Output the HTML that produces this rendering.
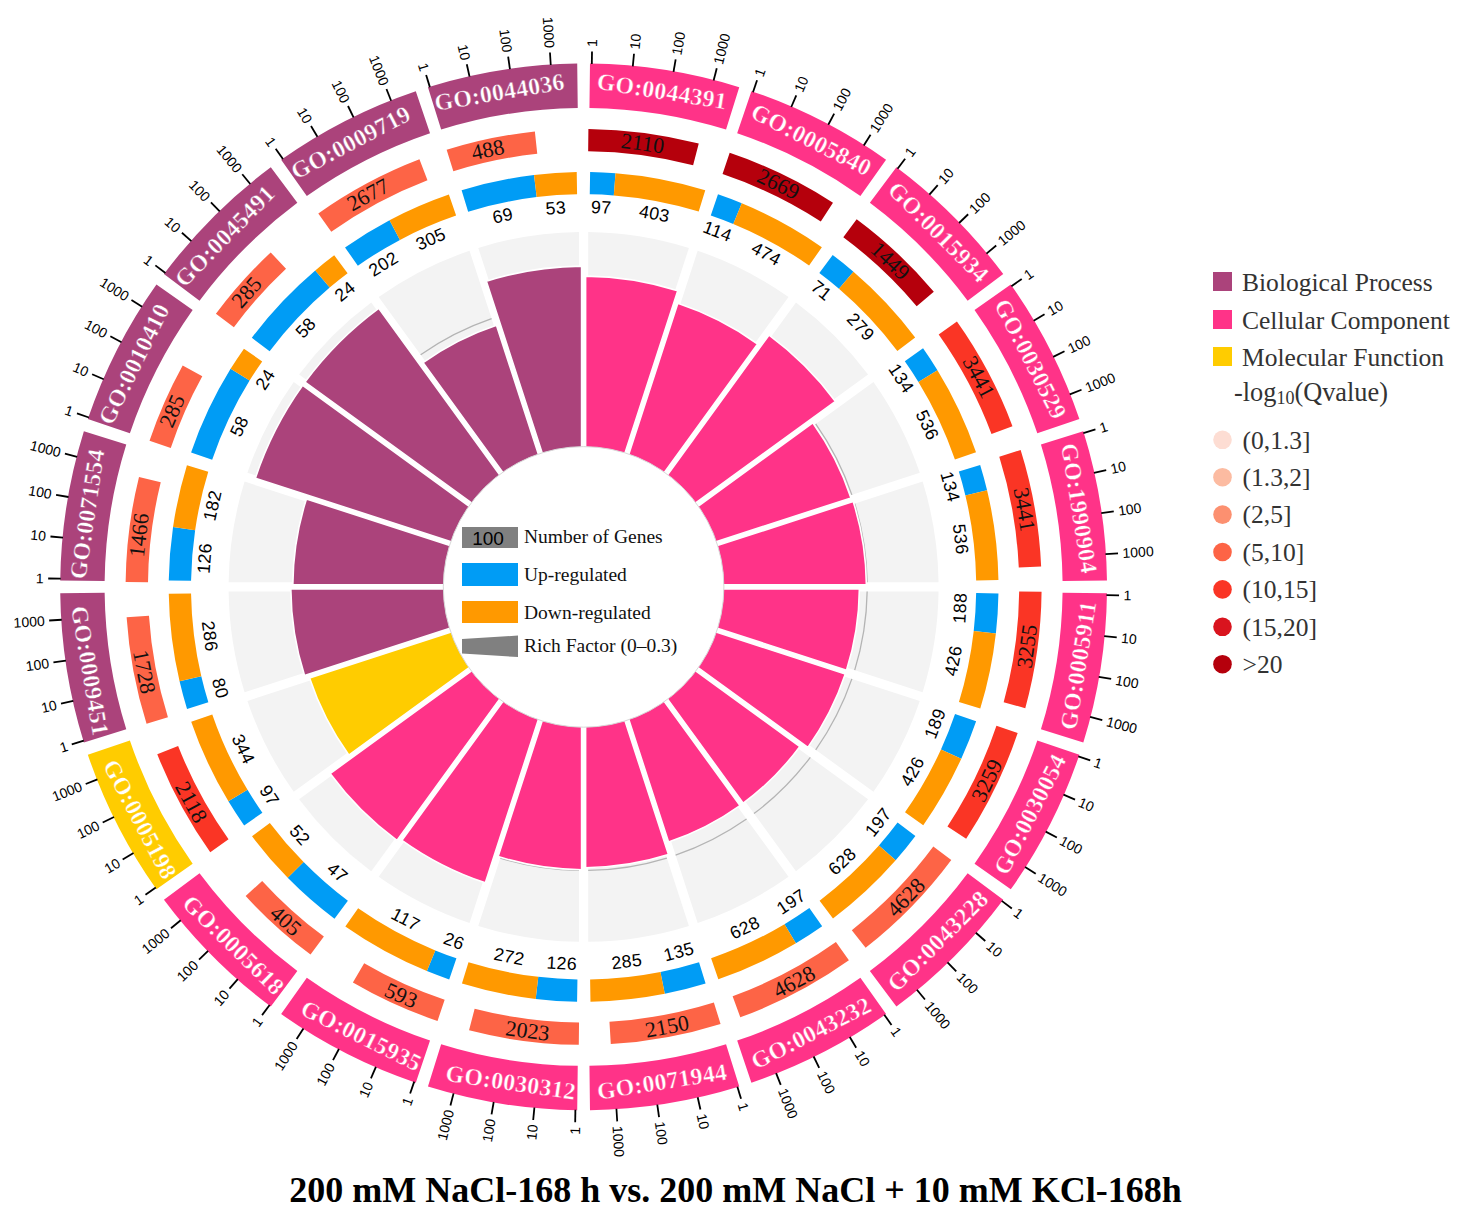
<!DOCTYPE html>
<html><head><meta charset="utf-8"><style>
html,body{margin:0;padding:0;background:#fff;}
body{width:1464px;height:1221px;overflow:hidden;font-family:"Liberation Sans",sans-serif;}
svg{display:block;}
</style></head><body>
<svg width="1464" height="1221" viewBox="0 0 1464 1221"><path d="M588.2 231.93 A355 355 0 0 1 688.92 247.88 L622.56 452.12 A140.3 140.3 0 0 0 588.2 446.68 Z" fill="#F3F3F3"/>
<path d="M697.67 250.72 A355 355 0 0 1 788.52 297.02 L662.3 470.75 A140.3 140.3 0 0 0 631.31 454.96 Z" fill="#F3F3F3"/>
<path d="M795.97 302.43 A355 355 0 0 1 868.07 374.53 L694.34 500.76 A140.3 140.3 0 0 0 669.74 476.16 Z" fill="#F3F3F3"/>
<path d="M873.48 381.98 A355 355 0 0 1 919.78 472.83 L715.54 539.19 A140.3 140.3 0 0 0 699.75 508.2 Z" fill="#F3F3F3"/>
<path d="M922.62 481.58 A355 355 0 0 1 938.57 582.3 L723.82 582.3 A140.3 140.3 0 0 0 718.38 547.94 Z" fill="#F3F3F3"/>
<path d="M938.57 591.5 A355 355 0 0 1 922.62 692.22 L718.38 625.86 A140.3 140.3 0 0 0 723.82 591.5 Z" fill="#F3F3F3"/>
<path d="M919.78 700.97 A355 355 0 0 1 873.48 791.82 L699.75 665.6 A140.3 140.3 0 0 0 715.54 634.61 Z" fill="#F3F3F3"/>
<path d="M868.07 799.27 A355 355 0 0 1 795.97 871.37 L669.74 697.64 A140.3 140.3 0 0 0 694.34 673.04 Z" fill="#F3F3F3"/>
<path d="M788.52 876.78 A355 355 0 0 1 697.67 923.08 L631.31 718.84 A140.3 140.3 0 0 0 662.3 703.05 Z" fill="#F3F3F3"/>
<path d="M688.92 925.92 A355 355 0 0 1 588.2 941.87 L588.2 727.12 A140.3 140.3 0 0 0 622.56 721.68 Z" fill="#F3F3F3"/>
<path d="M579 941.87 A355 355 0 0 1 478.28 925.92 L544.64 721.68 A140.3 140.3 0 0 0 579 727.12 Z" fill="#F3F3F3"/>
<path d="M469.53 923.08 A355 355 0 0 1 378.68 876.78 L504.9 703.05 A140.3 140.3 0 0 0 535.89 718.84 Z" fill="#F3F3F3"/>
<path d="M371.23 871.37 A355 355 0 0 1 299.13 799.27 L472.86 673.04 A140.3 140.3 0 0 0 497.46 697.64 Z" fill="#F3F3F3"/>
<path d="M293.72 791.82 A355 355 0 0 1 247.42 700.97 L451.66 634.61 A140.3 140.3 0 0 0 467.45 665.6 Z" fill="#F3F3F3"/>
<path d="M244.58 692.22 A355 355 0 0 1 228.63 591.5 L443.38 591.5 A140.3 140.3 0 0 0 448.82 625.86 Z" fill="#F3F3F3"/>
<path d="M228.63 582.3 A355 355 0 0 1 244.58 481.58 L448.82 547.94 A140.3 140.3 0 0 0 443.38 582.3 Z" fill="#F3F3F3"/>
<path d="M247.42 472.83 A355 355 0 0 1 293.72 381.98 L467.45 508.2 A140.3 140.3 0 0 0 451.66 539.19 Z" fill="#F3F3F3"/>
<path d="M299.13 374.53 A355 355 0 0 1 371.23 302.43 L497.46 476.16 A140.3 140.3 0 0 0 472.86 500.76 Z" fill="#F3F3F3"/>
<path d="M378.68 297.02 A355 355 0 0 1 469.53 250.72 L535.89 454.96 A140.3 140.3 0 0 0 504.9 470.75 Z" fill="#F3F3F3"/>
<path d="M478.28 247.88 A355 355 0 0 1 579 231.93 L579 446.68 A140.3 140.3 0 0 0 544.64 452.12 Z" fill="#F3F3F3"/>
<path d="M588.2 303.34 A283.6 283.6 0 0 1 666.85 315.79" fill="none" stroke="#B4B4B4" stroke-width="1.3"/>
<path d="M675.6 318.64 A283.6 283.6 0 0 1 746.55 354.79" fill="none" stroke="#B4B4B4" stroke-width="1.3"/>
<path d="M754 360.2 A283.6 283.6 0 0 1 810.3 416.5" fill="none" stroke="#B4B4B4" stroke-width="1.3"/>
<path d="M815.71 423.95 A283.6 283.6 0 0 1 851.86 494.9" fill="none" stroke="#B4B4B4" stroke-width="1.3"/>
<path d="M854.71 503.65 A283.6 283.6 0 0 1 867.16 582.3" fill="none" stroke="#B4B4B4" stroke-width="1.3"/>
<path d="M867.16 591.5 A283.6 283.6 0 0 1 854.71 670.15" fill="none" stroke="#B4B4B4" stroke-width="1.3"/>
<path d="M851.86 678.9 A283.6 283.6 0 0 1 815.71 749.85" fill="none" stroke="#B4B4B4" stroke-width="1.3"/>
<path d="M810.3 757.3 A283.6 283.6 0 0 1 754 813.6" fill="none" stroke="#B4B4B4" stroke-width="1.3"/>
<path d="M746.55 819.01 A283.6 283.6 0 0 1 675.6 855.16" fill="none" stroke="#B4B4B4" stroke-width="1.3"/>
<path d="M666.85 858.01 A283.6 283.6 0 0 1 588.2 870.46" fill="none" stroke="#B4B4B4" stroke-width="1.3"/>
<path d="M579 870.46 A283.6 283.6 0 0 1 500.35 858.01" fill="none" stroke="#B4B4B4" stroke-width="1.3"/>
<path d="M491.6 855.16 A283.6 283.6 0 0 1 420.65 819.01" fill="none" stroke="#B4B4B4" stroke-width="1.3"/>
<path d="M413.2 813.6 A283.6 283.6 0 0 1 356.9 757.3" fill="none" stroke="#B4B4B4" stroke-width="1.3"/>
<path d="M351.49 749.85 A283.6 283.6 0 0 1 315.34 678.9" fill="none" stroke="#B4B4B4" stroke-width="1.3"/>
<path d="M312.49 670.15 A283.6 283.6 0 0 1 300.04 591.5" fill="none" stroke="#B4B4B4" stroke-width="1.3"/>
<path d="M300.04 582.3 A283.6 283.6 0 0 1 312.49 503.65" fill="none" stroke="#B4B4B4" stroke-width="1.3"/>
<path d="M315.34 494.9 A283.6 283.6 0 0 1 351.49 423.95" fill="none" stroke="#B4B4B4" stroke-width="1.3"/>
<path d="M356.9 416.5 A283.6 283.6 0 0 1 413.2 360.2" fill="none" stroke="#B4B4B4" stroke-width="1.3"/>
<path d="M420.65 354.79 A283.6 283.6 0 0 1 491.6 318.64" fill="none" stroke="#B4B4B4" stroke-width="1.3"/>
<path d="M500.35 315.79 A283.6 283.6 0 0 1 579 303.34" fill="none" stroke="#B4B4B4" stroke-width="1.3"/>
<path d="M585.6 276.11 A310.8 310.8 0 0 1 677.74 290.7 L624.43 454.76 A138.3 138.3 0 0 0 585.6 448.61 Z" fill="#FF3388" stroke="#fff" stroke-width="1.6"/>
<path d="M677.83 303.35 A298.8 298.8 0 0 1 757.61 344 L663.26 473.85 A138.3 138.3 0 0 0 628.23 456 Z" fill="#FF3388" stroke="#fff" stroke-width="1.6"/>
<path d="M769.07 335.02 A312.8 312.8 0 0 1 835.48 401.43 L694.3 504 A138.3 138.3 0 0 0 666.5 476.2 Z" fill="#FF3388" stroke="#fff" stroke-width="1.6"/>
<path d="M812.75 422.88 A281.8 281.8 0 0 1 850.98 497.92 L714.5 542.27 A138.3 138.3 0 0 0 696.65 507.24 Z" fill="#FF3388" stroke="#fff" stroke-width="1.6"/>
<path d="M853.17 501.41 A282.8 282.8 0 0 1 866.39 584.9 L721.89 584.9 A138.3 138.3 0 0 0 715.74 546.07 Z" fill="#FF3388" stroke="#fff" stroke-width="1.6"/>
<path d="M859.39 588.9 A275.8 275.8 0 0 1 846.51 670.22 L715.74 627.73 A138.3 138.3 0 0 0 721.89 588.9 Z" fill="#FF3388" stroke="#fff" stroke-width="1.6"/>
<path d="M845.28 674.03 A275.8 275.8 0 0 1 807.9 747.39 L696.65 666.56 A138.3 138.3 0 0 0 714.5 631.53 Z" fill="#FF3388" stroke="#fff" stroke-width="1.6"/>
<path d="M799.88 746.51 A268.8 268.8 0 0 1 743.21 803.18 L666.5 697.6 A138.3 138.3 0 0 0 694.3 669.8 Z" fill="#FF3388" stroke="#fff" stroke-width="1.6"/>
<path d="M739.97 805.53 A268.8 268.8 0 0 1 668.56 841.92 L628.23 717.8 A138.3 138.3 0 0 0 663.26 699.95 Z" fill="#FF3388" stroke="#fff" stroke-width="1.6"/>
<path d="M668.47 854.57 A280.8 280.8 0 0 1 585.6 867.69 L585.6 725.19 A138.3 138.3 0 0 0 624.43 719.04 Z" fill="#FF3388" stroke="#fff" stroke-width="1.6"/>
<path d="M581.6 869.69 A282.8 282.8 0 0 1 498.11 856.47 L542.77 719.04 A138.3 138.3 0 0 0 581.6 725.19 Z" fill="#FF3388" stroke="#fff" stroke-width="1.6"/>
<path d="M485.35 882.82 A311.8 311.8 0 0 1 401.95 840.32 L503.94 699.95 A138.3 138.3 0 0 0 538.97 717.8 Z" fill="#FF3388" stroke="#fff" stroke-width="1.6"/>
<path d="M396.95 840.4 A314.8 314.8 0 0 1 330.1 773.55 L472.9 669.8 A138.3 138.3 0 0 0 500.7 697.6 Z" fill="#FF3388" stroke="#fff" stroke-width="1.6"/>
<path d="M348.79 755.03 A288.8 288.8 0 0 1 309.56 678.04 L452.7 631.53 A138.3 138.3 0 0 0 470.55 666.56 Z" fill="#FFCC00" stroke="#fff" stroke-width="1.6"/>
<path d="M304.52 675.48 A292.8 292.8 0 0 1 290.81 588.9 L445.31 588.9 A138.3 138.3 0 0 0 451.46 627.73 Z" fill="#AB437B" stroke="#fff" stroke-width="1.6"/>
<path d="M292.81 584.9 A290.8 290.8 0 0 1 306.42 498.94 L451.46 546.07 A138.3 138.3 0 0 0 445.31 584.9 Z" fill="#AB437B" stroke="#fff" stroke-width="1.6"/>
<path d="M255.35 478.14 A345.8 345.8 0 0 1 302.67 385.27 L470.55 507.24 A138.3 138.3 0 0 0 452.7 542.27 Z" fill="#AB437B" stroke="#fff" stroke-width="1.6"/>
<path d="M305.02 382.03 A345.8 345.8 0 0 1 378.73 308.32 L500.7 476.2 A138.3 138.3 0 0 0 472.9 504 Z" fill="#AB437B" stroke="#fff" stroke-width="1.6"/>
<path d="M423.11 362.6 A275.8 275.8 0 0 1 496.47 325.22 L538.97 456 A138.3 138.3 0 0 0 503.94 473.85 Z" fill="#AB437B" stroke="#fff" stroke-width="1.6"/>
<path d="M486.37 281.19 A320.8 320.8 0 0 1 581.6 266.11 L581.6 448.61 A138.3 138.3 0 0 0 542.77 454.76 Z" fill="#AB437B" stroke="#fff" stroke-width="1.6"/>
<circle cx="583.6" cy="586.9" r="140.3" fill="#fff" stroke="#d8d8d8" stroke-width="1"/>
<path d="M589.99 63.54 A523.4 523.4 0 0 1 739.25 87.18 L726.04 129.57 A479 479 0 0 0 589.45 107.94 Z" fill="#FF3388"/>
<path d="M588.4 128.93 A458 458 0 0 1 698.75 143.61 L693.12 165.29 A435.6 435.6 0 0 0 588.16 151.32 Z" fill="#B5000C"/>
<path d="M590.12 172.05 A414.9 414.9 0 0 1 615.51 173.23 L613.8 195.46 A392.6 392.6 0 0 0 589.77 194.35 Z" fill="#009CF5"/>
<path d="M615.51 173.23 A414.9 414.9 0 0 1 705.25 190.24 L698.71 211.56 A392.6 392.6 0 0 0 613.8 195.46 Z" fill="#FF9900"/>
<line x1="591.81" y1="64.06" x2="592.01" y2="51.47" stroke="#000" stroke-width="1.8"/>
<text x="592.08" y="46.97" transform="rotate(-89.1 592.08 46.97)" font-family="'Liberation Sans', sans-serif" font-size="14" text-anchor="start" dominant-baseline="central" fill="#000">1</text>
<line x1="632.81" y1="66.32" x2="634" y2="53.78" stroke="#000" stroke-width="1.8"/>
<text x="634.42" y="49.3" transform="rotate(-84.6 634.42 49.3)" font-family="'Liberation Sans', sans-serif" font-size="14" text-anchor="start" dominant-baseline="central" fill="#000">10</text>
<line x1="673.5" y1="71.79" x2="675.67" y2="59.37" stroke="#000" stroke-width="1.8"/>
<text x="676.44" y="54.94" transform="rotate(-80.1 676.44 54.94)" font-family="'Liberation Sans', sans-serif" font-size="14" text-anchor="start" dominant-baseline="central" fill="#000">100</text>
<line x1="713.64" y1="80.43" x2="716.77" y2="68.22" stroke="#000" stroke-width="1.8"/>
<text x="717.89" y="63.87" transform="rotate(-75.6 717.89 63.87)" font-family="'Liberation Sans', sans-serif" font-size="14" text-anchor="start" dominant-baseline="central" fill="#000">1000</text>
<text x="583.6" y="93.05" transform="rotate(9 583.6 586.9)" text-anchor="middle" font-family="'Liberation Serif', serif" font-size="23.8" fill="#fff" font-weight="bold" stroke="#FF3388" stroke-width="0.4" letter-spacing="0.3">GO:0044391</text>
<text x="583.6" y="146.66" transform="rotate(7.58 583.6 586.9)" text-anchor="middle" font-family="'Liberation Serif', serif" font-size="22" fill="#111" font-weight="normal" >2110</text>
<text x="583.6" y="212.97" transform="rotate(2.66 583.6 586.9)" text-anchor="middle" font-family="'Liberation Sans', sans-serif" font-size="17.8" fill="#000" font-weight="normal" letter-spacing="0.3">97</text>
<text x="583.6" y="212.97" transform="rotate(10.73 583.6 586.9)" text-anchor="middle" font-family="'Liberation Sans', sans-serif" font-size="17.8" fill="#000" font-weight="normal" letter-spacing="0.3">403</text>
<path d="M751.41 91.13 A523.4 523.4 0 0 1 886.05 159.73 L860.39 195.97 A479 479 0 0 0 737.17 133.19 Z" fill="#FF3388"/>
<path d="M729.68 152.82 A458 458 0 0 1 832.98 202.75 L820.79 221.54 A435.6 435.6 0 0 0 722.54 174.05 Z" fill="#B5000C"/>
<path d="M717.99 194.37 A414.9 414.9 0 0 1 741.77 203.33 L733.27 223.95 A392.6 392.6 0 0 0 710.77 215.47 Z" fill="#009CF5"/>
<path d="M741.77 203.33 A414.9 414.9 0 0 1 821.87 247.24 L809.07 265.5 A392.6 392.6 0 0 0 733.27 223.95 Z" fill="#FF9900"/>
<line x1="752.98" y1="92.19" x2="757.06" y2="80.27" stroke="#000" stroke-width="1.8"/>
<text x="758.52" y="76.01" transform="rotate(-71.1 758.52 76.01)" font-family="'Liberation Sans', sans-serif" font-size="14" text-anchor="start" dominant-baseline="central" fill="#000">1</text>
<line x1="791.27" y1="107.01" x2="796.27" y2="95.44" stroke="#000" stroke-width="1.8"/>
<text x="798.06" y="91.31" transform="rotate(-66.6 798.06 91.31)" font-family="'Liberation Sans', sans-serif" font-size="14" text-anchor="start" dominant-baseline="central" fill="#000">10</text>
<line x1="828.28" y1="124.78" x2="834.18" y2="113.64" stroke="#000" stroke-width="1.8"/>
<text x="836.28" y="109.67" transform="rotate(-62.1 836.28 109.67)" font-family="'Liberation Sans', sans-serif" font-size="14" text-anchor="start" dominant-baseline="central" fill="#000">100</text>
<line x1="863.78" y1="145.4" x2="870.54" y2="134.76" stroke="#000" stroke-width="1.8"/>
<text x="872.95" y="130.96" transform="rotate(-57.6 872.95 130.96)" font-family="'Liberation Sans', sans-serif" font-size="14" text-anchor="start" dominant-baseline="central" fill="#000">1000</text>
<text x="583.6" y="93.05" transform="rotate(27 583.6 586.9)" text-anchor="middle" font-family="'Liberation Serif', serif" font-size="23.8" fill="#fff" font-weight="bold" stroke="#FF3388" stroke-width="0.4" letter-spacing="0.3">GO:0005840</text>
<text x="583.6" y="146.66" transform="rotate(25.8 583.6 586.9)" text-anchor="middle" font-family="'Liberation Serif', serif" font-size="22" fill="#111" font-weight="normal" >2669</text>
<text x="583.6" y="212.97" transform="rotate(20.65 583.6 586.9)" text-anchor="middle" font-family="'Liberation Sans', sans-serif" font-size="17.8" fill="#000" font-weight="normal" letter-spacing="0.3">114</text>
<text x="583.6" y="212.97" transform="rotate(28.73 583.6 586.9)" text-anchor="middle" font-family="'Liberation Sans', sans-serif" font-size="17.8" fill="#000" font-weight="normal" letter-spacing="0.3">474</text>
<path d="M896.4 167.25 A523.4 523.4 0 0 1 1003.25 274.1 L967.65 300.64 A479 479 0 0 0 869.86 202.85 Z" fill="#FF3388"/>
<path d="M856.67 219.21 A458 458 0 0 1 933.81 291.75 L916.68 306.18 A435.6 435.6 0 0 0 843.32 237.19 Z" fill="#B5000C"/>
<path d="M832.71 255.11 A414.9 414.9 0 0 1 853.45 271.75 L838.95 288.68 A392.6 392.6 0 0 0 819.32 272.94 Z" fill="#009CF5"/>
<path d="M853.45 271.75 A414.9 414.9 0 0 1 915.17 337.5 L897.35 350.9 A392.6 392.6 0 0 0 838.95 288.68 Z" fill="#FF9900"/>
<line x1="897.56" y1="168.74" x2="905.13" y2="158.67" stroke="#000" stroke-width="1.8"/>
<text x="907.83" y="155.07" transform="rotate(-53.1 907.83 155.07)" font-family="'Liberation Sans', sans-serif" font-size="14" text-anchor="start" dominant-baseline="central" fill="#000">1</text>
<line x1="929.4" y1="194.67" x2="937.73" y2="185.22" stroke="#000" stroke-width="1.8"/>
<text x="940.71" y="181.84" transform="rotate(-48.6 940.71 181.84)" font-family="'Liberation Sans', sans-serif" font-size="14" text-anchor="start" dominant-baseline="central" fill="#000">10</text>
<line x1="959.11" y1="223.01" x2="968.16" y2="214.24" stroke="#000" stroke-width="1.8"/>
<text x="971.39" y="211.11" transform="rotate(-44.1 971.39 211.11)" font-family="'Liberation Sans', sans-serif" font-size="14" text-anchor="start" dominant-baseline="central" fill="#000">100</text>
<line x1="986.5" y1="253.59" x2="996.21" y2="245.56" stroke="#000" stroke-width="1.8"/>
<text x="999.68" y="242.69" transform="rotate(-39.6 999.68 242.69)" font-family="'Liberation Sans', sans-serif" font-size="14" text-anchor="start" dominant-baseline="central" fill="#000">1000</text>
<text x="583.6" y="93.05" transform="rotate(45 583.6 586.9)" text-anchor="middle" font-family="'Liberation Serif', serif" font-size="23.8" fill="#fff" font-weight="bold" stroke="#FF3388" stroke-width="0.4" letter-spacing="0.3">GO:0015934</text>
<text x="583.6" y="146.66" transform="rotate(43.24 583.6 586.9)" text-anchor="middle" font-family="'Liberation Serif', serif" font-size="22" fill="#111" font-weight="normal" >1449</text>
<text x="583.6" y="212.97" transform="rotate(38.74 583.6 586.9)" text-anchor="middle" font-family="'Liberation Sans', sans-serif" font-size="17.8" fill="#000" font-weight="normal" letter-spacing="0.3">71</text>
<text x="583.6" y="212.97" transform="rotate(46.81 583.6 586.9)" text-anchor="middle" font-family="'Liberation Sans', sans-serif" font-size="17.8" fill="#000" font-weight="normal" letter-spacing="0.3">279</text>
<path d="M1010.77 284.45 A523.4 523.4 0 0 1 1079.37 419.09 L1037.31 433.33 A479 479 0 0 0 974.53 310.11 Z" fill="#FF3388"/>
<path d="M956.93 321.59 A458 458 0 0 1 1012.47 426.16 L991.49 434.02 A435.6 435.6 0 0 0 938.67 334.57 Z" fill="#FA3525"/>
<path d="M923.05 348.33 A414.9 414.9 0 0 1 937.44 370.24 L918.42 381.88 A392.6 392.6 0 0 0 904.81 361.15 Z" fill="#009CF5"/>
<path d="M937.44 370.24 A414.9 414.9 0 0 1 976.01 452.16 L954.92 459.41 A392.6 392.6 0 0 0 918.42 381.88 Z" fill="#FF9900"/>
<line x1="1011.41" y1="286.23" x2="1021.72" y2="278.98" stroke="#000" stroke-width="1.8"/>
<text x="1025.4" y="276.4" transform="rotate(-35.1 1025.4 276.4)" font-family="'Liberation Sans', sans-serif" font-size="14" text-anchor="start" dominant-baseline="central" fill="#000">1</text>
<line x1="1033.68" y1="320.72" x2="1044.53" y2="314.31" stroke="#000" stroke-width="1.8"/>
<text x="1048.4" y="312.02" transform="rotate(-30.6 1048.4 312.02)" font-family="'Liberation Sans', sans-serif" font-size="14" text-anchor="start" dominant-baseline="central" fill="#000">10</text>
<line x1="1053.18" y1="356.86" x2="1064.49" y2="351.31" stroke="#000" stroke-width="1.8"/>
<text x="1068.53" y="349.33" transform="rotate(-26.1 1068.53 349.33)" font-family="'Liberation Sans', sans-serif" font-size="14" text-anchor="start" dominant-baseline="central" fill="#000">100</text>
<line x1="1069.78" y1="394.41" x2="1081.5" y2="389.77" stroke="#000" stroke-width="1.8"/>
<text x="1085.68" y="388.11" transform="rotate(-21.6 1085.68 388.11)" font-family="'Liberation Sans', sans-serif" font-size="14" text-anchor="start" dominant-baseline="central" fill="#000">1000</text>
<text x="583.6" y="93.05" transform="rotate(63 583.6 586.9)" text-anchor="middle" font-family="'Liberation Serif', serif" font-size="23.8" fill="#fff" font-weight="bold" stroke="#FF3388" stroke-width="0.4" letter-spacing="0.3">GO:0030529</text>
<text x="583.6" y="146.66" transform="rotate(62.03 583.6 586.9)" text-anchor="middle" font-family="'Liberation Serif', serif" font-size="22" fill="#111" font-weight="normal" >3441</text>
<text x="583.6" y="212.97" transform="rotate(56.71 583.6 586.9)" text-anchor="middle" font-family="'Liberation Sans', sans-serif" font-size="17.8" fill="#000" font-weight="normal" letter-spacing="0.3">134</text>
<text x="583.6" y="212.97" transform="rotate(64.78 583.6 586.9)" text-anchor="middle" font-family="'Liberation Sans', sans-serif" font-size="17.8" fill="#000" font-weight="normal" letter-spacing="0.3">536</text>
<path d="M1083.32 431.25 A523.4 523.4 0 0 1 1106.96 580.51 L1062.56 581.05 A479 479 0 0 0 1040.93 444.46 Z" fill="#FF3388"/>
<path d="M1020.64 449.94 A458 458 0 0 1 1041.15 566.56 L1018.77 567.55 A435.6 435.6 0 0 0 999.27 456.64 Z" fill="#FA3525"/>
<path d="M980.16 464.9 A414.9 414.9 0 0 1 987.07 490.18 L965.38 495.38 A392.6 392.6 0 0 0 958.84 471.46 Z" fill="#009CF5"/>
<path d="M987.07 490.18 A414.9 414.9 0 0 1 998.44 580.02 L976.15 580.39 A392.6 392.6 0 0 0 965.38 495.38 Z" fill="#FF9900"/>
<line x1="1083.38" y1="433.15" x2="1095.43" y2="429.44" stroke="#000" stroke-width="1.8"/>
<text x="1099.73" y="428.12" transform="rotate(-17.1 1099.73 428.12)" font-family="'Liberation Sans', sans-serif" font-size="14" text-anchor="start" dominant-baseline="central" fill="#000">1</text>
<line x1="1093.91" y1="472.83" x2="1106.2" y2="470.08" stroke="#000" stroke-width="1.8"/>
<text x="1110.6" y="469.1" transform="rotate(-12.6 1110.6 469.1)" font-family="'Liberation Sans', sans-serif" font-size="14" text-anchor="start" dominant-baseline="central" fill="#000">10</text>
<line x1="1101.28" y1="513.22" x2="1113.76" y2="511.45" stroke="#000" stroke-width="1.8"/>
<text x="1118.21" y="510.81" transform="rotate(-8.1 1118.21 510.81)" font-family="'Liberation Sans', sans-serif" font-size="14" text-anchor="start" dominant-baseline="central" fill="#000">100</text>
<line x1="1105.47" y1="554.07" x2="1118.04" y2="553.28" stroke="#000" stroke-width="1.8"/>
<text x="1122.53" y="552.99" transform="rotate(-3.6 1122.53 552.99)" font-family="'Liberation Sans', sans-serif" font-size="14" text-anchor="start" dominant-baseline="central" fill="#000">1000</text>
<text x="583.6" y="93.05" transform="rotate(81 583.6 586.9)" text-anchor="middle" font-family="'Liberation Serif', serif" font-size="23.8" fill="#fff" font-weight="bold" stroke="#FF3388" stroke-width="0.4" letter-spacing="0.3">GO:1990904</text>
<text x="583.6" y="146.66" transform="rotate(80.03 583.6 586.9)" text-anchor="middle" font-family="'Liberation Serif', serif" font-size="22" fill="#111" font-weight="normal" >3441</text>
<text x="583.6" y="212.97" transform="rotate(74.71 583.6 586.9)" text-anchor="middle" font-family="'Liberation Sans', sans-serif" font-size="17.8" fill="#000" font-weight="normal" letter-spacing="0.3">134</text>
<text x="583.6" y="212.97" transform="rotate(82.78 583.6 586.9)" text-anchor="middle" font-family="'Liberation Sans', sans-serif" font-size="17.8" fill="#000" font-weight="normal" letter-spacing="0.3">536</text>
<path d="M1106.96 593.29 A523.4 523.4 0 0 1 1083.32 742.55 L1040.93 729.34 A479 479 0 0 0 1062.56 592.75 Z" fill="#FF3388"/>
<path d="M1041.57 591.7 A458 458 0 0 1 1025.26 708.16 L1003.66 702.23 A435.6 435.6 0 0 0 1019.18 591.46 Z" fill="#FA3525"/>
<path d="M998.45 593.42 A414.9 414.9 0 0 1 995.88 633.45 L973.72 630.95 A392.6 392.6 0 0 0 976.15 593.07 Z" fill="#009CF5"/>
<path d="M995.88 633.45 A414.9 414.9 0 0 1 980.26 708.55 L958.94 702.01 A392.6 392.6 0 0 0 973.72 630.95 Z" fill="#FF9900"/>
<line x1="1106.44" y1="595.11" x2="1119.03" y2="595.31" stroke="#000" stroke-width="1.8"/>
<text x="1123.53" y="595.38" transform="rotate(0.9 1123.53 595.38)" font-family="'Liberation Sans', sans-serif" font-size="14" text-anchor="start" dominant-baseline="central" fill="#000">1</text>
<line x1="1104.18" y1="636.11" x2="1116.72" y2="637.3" stroke="#000" stroke-width="1.8"/>
<text x="1121.2" y="637.72" transform="rotate(5.4 1121.2 637.72)" font-family="'Liberation Sans', sans-serif" font-size="14" text-anchor="start" dominant-baseline="central" fill="#000">10</text>
<line x1="1098.71" y1="676.8" x2="1111.13" y2="678.97" stroke="#000" stroke-width="1.8"/>
<text x="1115.56" y="679.74" transform="rotate(9.9 1115.56 679.74)" font-family="'Liberation Sans', sans-serif" font-size="14" text-anchor="start" dominant-baseline="central" fill="#000">100</text>
<line x1="1090.07" y1="716.94" x2="1102.28" y2="720.07" stroke="#000" stroke-width="1.8"/>
<text x="1106.63" y="721.19" transform="rotate(14.4 1106.63 721.19)" font-family="'Liberation Sans', sans-serif" font-size="14" text-anchor="start" dominant-baseline="central" fill="#000">1000</text>
<text x="583.6" y="1095.75" transform="rotate(-81 583.6 586.9)" text-anchor="middle" font-family="'Liberation Serif', serif" font-size="23.8" fill="#fff" font-weight="bold" stroke="#FF3388" stroke-width="0.4" letter-spacing="0.3">GO:0005911</text>
<text x="583.6" y="1041.66" transform="rotate(-82.37 583.6 586.9)" text-anchor="middle" font-family="'Liberation Serif', serif" font-size="22" fill="#111" font-weight="normal" >3255</text>
<text x="583.6" y="969.97" transform="rotate(-86.78 583.6 586.9)" text-anchor="middle" font-family="'Liberation Sans', sans-serif" font-size="17.8" fill="#000" font-weight="normal" letter-spacing="0.3">188</text>
<text x="583.6" y="969.97" transform="rotate(-78.7 583.6 586.9)" text-anchor="middle" font-family="'Liberation Sans', sans-serif" font-size="17.8" fill="#000" font-weight="normal" letter-spacing="0.3">426</text>
<path d="M1079.37 754.71 A523.4 523.4 0 0 1 1010.77 889.35 L974.53 863.69 A479 479 0 0 0 1037.31 740.47 Z" fill="#FF3388"/>
<path d="M1017.68 732.98 A458 458 0 0 1 966.16 838.72 L947.45 826.4 A435.6 435.6 0 0 0 996.45 725.84 Z" fill="#FA3525"/>
<path d="M976.13 721.29 A414.9 414.9 0 0 1 961.26 758.71 L940.96 749.47 A392.6 392.6 0 0 0 955.03 714.07 Z" fill="#009CF5"/>
<path d="M961.26 758.71 A414.9 414.9 0 0 1 923.26 825.17 L905 812.37 A392.6 392.6 0 0 0 940.96 749.47 Z" fill="#FF9900"/>
<line x1="1078.31" y1="756.28" x2="1090.23" y2="760.36" stroke="#000" stroke-width="1.8"/>
<text x="1094.49" y="761.82" transform="rotate(18.9 1094.49 761.82)" font-family="'Liberation Sans', sans-serif" font-size="14" text-anchor="start" dominant-baseline="central" fill="#000">1</text>
<line x1="1063.49" y1="794.57" x2="1075.06" y2="799.57" stroke="#000" stroke-width="1.8"/>
<text x="1079.19" y="801.36" transform="rotate(23.4 1079.19 801.36)" font-family="'Liberation Sans', sans-serif" font-size="14" text-anchor="start" dominant-baseline="central" fill="#000">10</text>
<line x1="1045.72" y1="831.58" x2="1056.86" y2="837.48" stroke="#000" stroke-width="1.8"/>
<text x="1060.83" y="839.58" transform="rotate(27.9 1060.83 839.58)" font-family="'Liberation Sans', sans-serif" font-size="14" text-anchor="start" dominant-baseline="central" fill="#000">100</text>
<line x1="1025.1" y1="867.08" x2="1035.74" y2="873.84" stroke="#000" stroke-width="1.8"/>
<text x="1039.54" y="876.25" transform="rotate(32.4 1039.54 876.25)" font-family="'Liberation Sans', sans-serif" font-size="14" text-anchor="start" dominant-baseline="central" fill="#000">1000</text>
<text x="583.6" y="1095.75" transform="rotate(-63 583.6 586.9)" text-anchor="middle" font-family="'Liberation Serif', serif" font-size="23.8" fill="#fff" font-weight="bold" stroke="#FF3388" stroke-width="0.4" letter-spacing="0.3">GO:0030054</text>
<text x="583.6" y="1041.66" transform="rotate(-64.37 583.6 586.9)" text-anchor="middle" font-family="'Liberation Serif', serif" font-size="22" fill="#111" font-weight="normal" >3259</text>
<text x="583.6" y="969.97" transform="rotate(-68.77 583.6 586.9)" text-anchor="middle" font-family="'Liberation Sans', sans-serif" font-size="17.8" fill="#000" font-weight="normal" letter-spacing="0.3">189</text>
<text x="583.6" y="969.97" transform="rotate(-60.69 583.6 586.9)" text-anchor="middle" font-family="'Liberation Sans', sans-serif" font-size="17.8" fill="#000" font-weight="normal" letter-spacing="0.3">426</text>
<path d="M1003.25 899.7 A523.4 523.4 0 0 1 896.4 1006.55 L869.86 970.95 A479 479 0 0 0 967.65 873.16 Z" fill="#FF3388"/>
<path d="M951.29 859.97 A458 458 0 0 1 865.61 947.78 L851.81 930.13 A435.6 435.6 0 0 0 933.31 846.62 Z" fill="#FD6446"/>
<path d="M915.39 836.01 A414.9 414.9 0 0 1 895.67 860.31 L878.9 845.62 A392.6 392.6 0 0 0 897.56 822.62 Z" fill="#009CF5"/>
<path d="M895.67 860.31 A414.9 414.9 0 0 1 833 918.47 L819.6 900.65 A392.6 392.6 0 0 0 878.9 845.62 Z" fill="#FF9900"/>
<line x1="1001.76" y1="900.86" x2="1011.83" y2="908.43" stroke="#000" stroke-width="1.8"/>
<text x="1015.43" y="911.13" transform="rotate(36.9 1015.43 911.13)" font-family="'Liberation Sans', sans-serif" font-size="14" text-anchor="start" dominant-baseline="central" fill="#000">1</text>
<line x1="975.83" y1="932.7" x2="985.28" y2="941.03" stroke="#000" stroke-width="1.8"/>
<text x="988.66" y="944.01" transform="rotate(41.4 988.66 944.01)" font-family="'Liberation Sans', sans-serif" font-size="14" text-anchor="start" dominant-baseline="central" fill="#000">10</text>
<line x1="947.49" y1="962.41" x2="956.26" y2="971.46" stroke="#000" stroke-width="1.8"/>
<text x="959.39" y="974.69" transform="rotate(45.9 959.39 974.69)" font-family="'Liberation Sans', sans-serif" font-size="14" text-anchor="start" dominant-baseline="central" fill="#000">100</text>
<line x1="916.91" y1="989.8" x2="924.94" y2="999.51" stroke="#000" stroke-width="1.8"/>
<text x="927.81" y="1002.98" transform="rotate(50.4 927.81 1002.98)" font-family="'Liberation Sans', sans-serif" font-size="14" text-anchor="start" dominant-baseline="central" fill="#000">1000</text>
<text x="583.6" y="1095.75" transform="rotate(-45 583.6 586.9)" text-anchor="middle" font-family="'Liberation Serif', serif" font-size="23.8" fill="#fff" font-weight="bold" stroke="#FF3388" stroke-width="0.4" letter-spacing="0.3">GO:0043228</text>
<text x="583.6" y="1041.66" transform="rotate(-46.05 583.6 586.9)" text-anchor="middle" font-family="'Liberation Serif', serif" font-size="22" fill="#111" font-weight="normal" >4628</text>
<text x="583.6" y="969.97" transform="rotate(-51.39 583.6 586.9)" text-anchor="middle" font-family="'Liberation Sans', sans-serif" font-size="17.8" fill="#000" font-weight="normal" letter-spacing="0.3">197</text>
<text x="583.6" y="969.97" transform="rotate(-43.31 583.6 586.9)" text-anchor="middle" font-family="'Liberation Sans', sans-serif" font-size="17.8" fill="#000" font-weight="normal" letter-spacing="0.3">628</text>
<path d="M886.05 1014.07 A523.4 523.4 0 0 1 751.41 1082.67 L737.17 1040.61 A479 479 0 0 0 860.39 977.83 Z" fill="#FF3388"/>
<path d="M848.91 960.23 A458 458 0 0 1 740.29 1017.26 L732.62 996.22 A435.6 435.6 0 0 0 835.93 941.97 Z" fill="#FD6446"/>
<path d="M822.17 926.35 A414.9 414.9 0 0 1 795.91 943.36 L784.5 924.21 A392.6 392.6 0 0 0 809.35 908.11 Z" fill="#009CF5"/>
<path d="M795.91 943.36 A414.9 414.9 0 0 1 718.34 979.31 L711.09 958.22 A392.6 392.6 0 0 0 784.5 924.21 Z" fill="#FF9900"/>
<line x1="884.27" y1="1014.71" x2="891.52" y2="1025.02" stroke="#000" stroke-width="1.8"/>
<text x="894.1" y="1028.7" transform="rotate(54.9 894.1 1028.7)" font-family="'Liberation Sans', sans-serif" font-size="14" text-anchor="start" dominant-baseline="central" fill="#000">1</text>
<line x1="849.78" y1="1036.98" x2="856.19" y2="1047.83" stroke="#000" stroke-width="1.8"/>
<text x="858.48" y="1051.7" transform="rotate(59.4 858.48 1051.7)" font-family="'Liberation Sans', sans-serif" font-size="14" text-anchor="start" dominant-baseline="central" fill="#000">10</text>
<line x1="813.64" y1="1056.48" x2="819.19" y2="1067.79" stroke="#000" stroke-width="1.8"/>
<text x="821.17" y="1071.83" transform="rotate(63.9 821.17 1071.83)" font-family="'Liberation Sans', sans-serif" font-size="14" text-anchor="start" dominant-baseline="central" fill="#000">100</text>
<line x1="776.09" y1="1073.08" x2="780.73" y2="1084.8" stroke="#000" stroke-width="1.8"/>
<text x="782.39" y="1088.98" transform="rotate(68.4 782.39 1088.98)" font-family="'Liberation Sans', sans-serif" font-size="14" text-anchor="start" dominant-baseline="central" fill="#000">1000</text>
<text x="583.6" y="1095.75" transform="rotate(-27 583.6 586.9)" text-anchor="middle" font-family="'Liberation Serif', serif" font-size="23.8" fill="#fff" font-weight="bold" stroke="#FF3388" stroke-width="0.4" letter-spacing="0.3">GO:0043232</text>
<text x="583.6" y="1041.66" transform="rotate(-28.05 583.6 586.9)" text-anchor="middle" font-family="'Liberation Serif', serif" font-size="22" fill="#111" font-weight="normal" >4628</text>
<text x="583.6" y="969.97" transform="rotate(-33.39 583.6 586.9)" text-anchor="middle" font-family="'Liberation Sans', sans-serif" font-size="17.8" fill="#000" font-weight="normal" letter-spacing="0.3">197</text>
<text x="583.6" y="969.97" transform="rotate(-25.31 583.6 586.9)" text-anchor="middle" font-family="'Liberation Sans', sans-serif" font-size="17.8" fill="#000" font-weight="normal" letter-spacing="0.3">628</text>
<path d="M739.25 1086.62 A523.4 523.4 0 0 1 589.99 1110.26 L589.45 1065.86 A479 479 0 0 0 726.04 1044.23 Z" fill="#FF3388"/>
<path d="M720.56 1023.94 A458 458 0 0 1 610.79 1044.09 L609.46 1021.73 A435.6 435.6 0 0 0 713.86 1002.57 Z" fill="#FD6446"/>
<path d="M705.6 983.46 A414.9 414.9 0 0 1 664.77 993.78 L660.41 971.91 A392.6 392.6 0 0 0 699.04 962.14 Z" fill="#009CF5"/>
<path d="M664.77 993.78 A414.9 414.9 0 0 1 590.48 1001.74 L590.11 979.45 A392.6 392.6 0 0 0 660.41 971.91 Z" fill="#FF9900"/>
<line x1="737.35" y1="1086.68" x2="741.06" y2="1098.73" stroke="#000" stroke-width="1.8"/>
<text x="742.38" y="1103.03" transform="rotate(72.9 742.38 1103.03)" font-family="'Liberation Sans', sans-serif" font-size="14" text-anchor="start" dominant-baseline="central" fill="#000">1</text>
<line x1="697.67" y1="1097.21" x2="700.42" y2="1109.5" stroke="#000" stroke-width="1.8"/>
<text x="701.4" y="1113.9" transform="rotate(77.4 701.4 1113.9)" font-family="'Liberation Sans', sans-serif" font-size="14" text-anchor="start" dominant-baseline="central" fill="#000">10</text>
<line x1="657.28" y1="1104.58" x2="659.05" y2="1117.06" stroke="#000" stroke-width="1.8"/>
<text x="659.69" y="1121.51" transform="rotate(81.9 659.69 1121.51)" font-family="'Liberation Sans', sans-serif" font-size="14" text-anchor="start" dominant-baseline="central" fill="#000">100</text>
<line x1="616.43" y1="1108.77" x2="617.22" y2="1121.34" stroke="#000" stroke-width="1.8"/>
<text x="617.51" y="1125.83" transform="rotate(86.4 617.51 1125.83)" font-family="'Liberation Sans', sans-serif" font-size="14" text-anchor="start" dominant-baseline="central" fill="#000">1000</text>
<text x="583.6" y="1095.75" transform="rotate(-9 583.6 586.9)" text-anchor="middle" font-family="'Liberation Serif', serif" font-size="23.8" fill="#fff" font-weight="bold" stroke="#FF3388" stroke-width="0.4" letter-spacing="0.3">GO:0071944</text>
<text x="583.6" y="1041.66" transform="rotate(-10.75 583.6 586.9)" text-anchor="middle" font-family="'Liberation Serif', serif" font-size="22" fill="#111" font-weight="normal" >2150</text>
<text x="583.6" y="969.97" transform="rotate(-14.64 583.6 586.9)" text-anchor="middle" font-family="'Liberation Sans', sans-serif" font-size="17.8" fill="#000" font-weight="normal" letter-spacing="0.3">135</text>
<text x="583.6" y="969.97" transform="rotate(-6.57 583.6 586.9)" text-anchor="middle" font-family="'Liberation Sans', sans-serif" font-size="17.8" fill="#000" font-weight="normal" letter-spacing="0.3">285</text>
<path d="M577.21 1110.26 A523.4 523.4 0 0 1 427.95 1086.62 L441.16 1044.23 A479 479 0 0 0 577.75 1065.86 Z" fill="#FF3388"/>
<path d="M578.8 1044.87 A458 458 0 0 1 469.04 1030.34 L474.64 1008.65 A435.6 435.6 0 0 0 579.04 1022.48 Z" fill="#FD6446"/>
<path d="M577.08 1001.75 A414.9 414.9 0 0 1 535.7 999.03 L538.27 976.87 A392.6 392.6 0 0 0 577.43 979.45 Z" fill="#009CF5"/>
<path d="M535.7 999.03 A414.9 414.9 0 0 1 461.95 983.56 L468.49 962.24 A392.6 392.6 0 0 0 538.27 976.87 Z" fill="#FF9900"/>
<line x1="575.39" y1="1109.74" x2="575.19" y2="1122.33" stroke="#000" stroke-width="1.8"/>
<text x="575.12" y="1126.83" transform="rotate(270.9 575.12 1126.83)" font-family="'Liberation Sans', sans-serif" font-size="14" text-anchor="end" dominant-baseline="central" fill="#000">1</text>
<line x1="534.39" y1="1107.48" x2="533.2" y2="1120.02" stroke="#000" stroke-width="1.8"/>
<text x="532.78" y="1124.5" transform="rotate(275.4 532.78 1124.5)" font-family="'Liberation Sans', sans-serif" font-size="14" text-anchor="end" dominant-baseline="central" fill="#000">10</text>
<line x1="493.7" y1="1102.01" x2="491.53" y2="1114.43" stroke="#000" stroke-width="1.8"/>
<text x="490.76" y="1118.86" transform="rotate(279.9 490.76 1118.86)" font-family="'Liberation Sans', sans-serif" font-size="14" text-anchor="end" dominant-baseline="central" fill="#000">100</text>
<line x1="453.56" y1="1093.37" x2="450.43" y2="1105.58" stroke="#000" stroke-width="1.8"/>
<text x="449.31" y="1109.93" transform="rotate(284.4 449.31 1109.93)" font-family="'Liberation Sans', sans-serif" font-size="14" text-anchor="end" dominant-baseline="central" fill="#000">1000</text>
<text x="583.6" y="1095.75" transform="rotate(8.35 583.6 586.9)" text-anchor="middle" font-family="'Liberation Serif', serif" font-size="23.8" fill="#fff" font-weight="bold" stroke="#FF3388" stroke-width="0.4" letter-spacing="0.3">GO:0030312</text>
<text x="583.6" y="1041.66" transform="rotate(7.19 583.6 586.9)" text-anchor="middle" font-family="'Liberation Serif', serif" font-size="22" fill="#111" font-weight="normal" >2023</text>
<text x="583.6" y="969.97" transform="rotate(3.32 583.6 586.9)" text-anchor="middle" font-family="'Liberation Sans', sans-serif" font-size="17.8" fill="#000" font-weight="normal" letter-spacing="0.3">126</text>
<text x="583.6" y="969.97" transform="rotate(11.39 583.6 586.9)" text-anchor="middle" font-family="'Liberation Sans', sans-serif" font-size="17.8" fill="#000" font-weight="normal" letter-spacing="0.3">272</text>
<path d="M415.79 1082.67 A523.4 523.4 0 0 1 281.15 1014.07 L306.81 977.83 A479 479 0 0 0 430.03 1040.61 Z" fill="#FF3388"/>
<path d="M437.52 1020.98 A458 458 0 0 1 352.89 982.55 L364.18 963.2 A435.6 435.6 0 0 0 444.66 999.75 Z" fill="#FD6446"/>
<path d="M449.21 979.43 A414.9 414.9 0 0 1 426.89 971.07 L435.32 950.42 A392.6 392.6 0 0 0 456.43 958.33 Z" fill="#009CF5"/>
<path d="M426.89 971.07 A414.9 414.9 0 0 1 345.33 926.56 L358.13 908.3 A392.6 392.6 0 0 0 435.32 950.42 Z" fill="#FF9900"/>
<line x1="414.22" y1="1081.61" x2="410.14" y2="1093.53" stroke="#000" stroke-width="1.8"/>
<text x="408.68" y="1097.79" transform="rotate(288.9 408.68 1097.79)" font-family="'Liberation Sans', sans-serif" font-size="14" text-anchor="end" dominant-baseline="central" fill="#000">1</text>
<line x1="375.93" y1="1066.79" x2="370.93" y2="1078.36" stroke="#000" stroke-width="1.8"/>
<text x="369.14" y="1082.49" transform="rotate(293.4 369.14 1082.49)" font-family="'Liberation Sans', sans-serif" font-size="14" text-anchor="end" dominant-baseline="central" fill="#000">10</text>
<line x1="338.92" y1="1049.02" x2="333.02" y2="1060.16" stroke="#000" stroke-width="1.8"/>
<text x="330.92" y="1064.13" transform="rotate(297.9 330.92 1064.13)" font-family="'Liberation Sans', sans-serif" font-size="14" text-anchor="end" dominant-baseline="central" fill="#000">100</text>
<line x1="303.42" y1="1028.4" x2="296.66" y2="1039.04" stroke="#000" stroke-width="1.8"/>
<text x="294.25" y="1042.84" transform="rotate(302.4 294.25 1042.84)" font-family="'Liberation Sans', sans-serif" font-size="14" text-anchor="end" dominant-baseline="central" fill="#000">1000</text>
<text x="583.6" y="1095.75" transform="rotate(26.35 583.6 586.9)" text-anchor="middle" font-family="'Liberation Serif', serif" font-size="23.8" fill="#fff" font-weight="bold" stroke="#FF3388" stroke-width="0.4" letter-spacing="0.3">GO:0015935</text>
<text x="583.6" y="1041.66" transform="rotate(24.07 583.6 586.9)" text-anchor="middle" font-family="'Liberation Serif', serif" font-size="22" fill="#111" font-weight="normal" >593</text>
<text x="583.6" y="969.97" transform="rotate(20.1 583.6 586.9)" text-anchor="middle" font-family="'Liberation Sans', sans-serif" font-size="17.8" fill="#000" font-weight="normal" letter-spacing="0.3">26</text>
<text x="583.6" y="969.97" transform="rotate(28.17 583.6 586.9)" text-anchor="middle" font-family="'Liberation Sans', sans-serif" font-size="17.8" fill="#000" font-weight="normal" letter-spacing="0.3">117</text>
<path d="M270.8 1006.55 A523.4 523.4 0 0 1 163.95 899.7 L199.55 873.16 A479 479 0 0 0 297.34 970.95 Z" fill="#FF3388"/>
<path d="M310.53 954.59 A458 458 0 0 1 245.65 896.02 L262.18 880.9 A435.6 435.6 0 0 0 323.88 936.61 Z" fill="#FD6446"/>
<path d="M334.49 918.69 A414.9 414.9 0 0 1 287.71 877.74 L303.61 862.11 A392.6 392.6 0 0 0 347.88 900.86 Z" fill="#009CF5"/>
<path d="M287.71 877.74 A414.9 414.9 0 0 1 252.03 836.3 L269.85 822.9 A392.6 392.6 0 0 0 303.61 862.11 Z" fill="#FF9900"/>
<line x1="269.64" y1="1005.06" x2="262.07" y2="1015.13" stroke="#000" stroke-width="1.8"/>
<text x="259.37" y="1018.73" transform="rotate(306.9 259.37 1018.73)" font-family="'Liberation Sans', sans-serif" font-size="14" text-anchor="end" dominant-baseline="central" fill="#000">1</text>
<line x1="237.8" y1="979.13" x2="229.47" y2="988.58" stroke="#000" stroke-width="1.8"/>
<text x="226.49" y="991.96" transform="rotate(311.4 226.49 991.96)" font-family="'Liberation Sans', sans-serif" font-size="14" text-anchor="end" dominant-baseline="central" fill="#000">10</text>
<line x1="208.09" y1="950.79" x2="199.04" y2="959.56" stroke="#000" stroke-width="1.8"/>
<text x="195.81" y="962.69" transform="rotate(315.9 195.81 962.69)" font-family="'Liberation Sans', sans-serif" font-size="14" text-anchor="end" dominant-baseline="central" fill="#000">100</text>
<line x1="180.7" y1="920.21" x2="170.99" y2="928.24" stroke="#000" stroke-width="1.8"/>
<text x="167.52" y="931.11" transform="rotate(320.4 167.52 931.11)" font-family="'Liberation Sans', sans-serif" font-size="14" text-anchor="end" dominant-baseline="central" fill="#000">1000</text>
<text x="583.6" y="1095.75" transform="rotate(44.35 583.6 586.9)" text-anchor="middle" font-family="'Liberation Serif', serif" font-size="23.8" fill="#fff" font-weight="bold" stroke="#FF3388" stroke-width="0.4" letter-spacing="0.3">GO:0005618</text>
<text x="583.6" y="1041.66" transform="rotate(41.73 583.6 586.9)" text-anchor="middle" font-family="'Liberation Serif', serif" font-size="22" fill="#111" font-weight="normal" >405</text>
<text x="583.6" y="969.97" transform="rotate(40.75 583.6 586.9)" text-anchor="middle" font-family="'Liberation Sans', sans-serif" font-size="17.8" fill="#000" font-weight="normal" letter-spacing="0.3">47</text>
<text x="583.6" y="969.97" transform="rotate(48.82 583.6 586.9)" text-anchor="middle" font-family="'Liberation Sans', sans-serif" font-size="17.8" fill="#000" font-weight="normal" letter-spacing="0.3">52</text>
<path d="M156.43 889.35 A523.4 523.4 0 0 1 87.83 754.71 L129.89 740.47 A479 479 0 0 0 192.67 863.69 Z" fill="#FFCC00"/>
<path d="M210.27 852.21 A458 458 0 0 1 157.27 754.25 L178.12 746.06 A435.6 435.6 0 0 0 228.53 839.23 Z" fill="#FA3525"/>
<path d="M244.15 825.47 A414.9 414.9 0 0 1 228.41 801.33 L247.5 789.8 A392.6 392.6 0 0 0 262.39 812.65 Z" fill="#009CF5"/>
<path d="M228.41 801.33 A414.9 414.9 0 0 1 191.19 721.64 L212.28 714.39 A392.6 392.6 0 0 0 247.5 789.8 Z" fill="#FF9900"/>
<line x1="155.79" y1="887.57" x2="145.48" y2="894.82" stroke="#000" stroke-width="1.8"/>
<text x="141.8" y="897.4" transform="rotate(324.9 141.8 897.4)" font-family="'Liberation Sans', sans-serif" font-size="14" text-anchor="end" dominant-baseline="central" fill="#000">1</text>
<line x1="133.52" y1="853.08" x2="122.67" y2="859.49" stroke="#000" stroke-width="1.8"/>
<text x="118.8" y="861.78" transform="rotate(329.4 118.8 861.78)" font-family="'Liberation Sans', sans-serif" font-size="14" text-anchor="end" dominant-baseline="central" fill="#000">10</text>
<line x1="114.02" y1="816.94" x2="102.71" y2="822.49" stroke="#000" stroke-width="1.8"/>
<text x="98.67" y="824.47" transform="rotate(333.9 98.67 824.47)" font-family="'Liberation Sans', sans-serif" font-size="14" text-anchor="end" dominant-baseline="central" fill="#000">100</text>
<line x1="97.42" y1="779.39" x2="85.7" y2="784.03" stroke="#000" stroke-width="1.8"/>
<text x="81.52" y="785.69" transform="rotate(338.4 81.52 785.69)" font-family="'Liberation Sans', sans-serif" font-size="14" text-anchor="end" dominant-baseline="central" fill="#000">1000</text>
<text x="583.6" y="1095.75" transform="rotate(62.35 583.6 586.9)" text-anchor="middle" font-family="'Liberation Serif', serif" font-size="23.8" fill="#fff" font-weight="bold" stroke="#FFCC00" stroke-width="0.4" letter-spacing="0.3">GO:0005198</text>
<text x="583.6" y="1041.66" transform="rotate(61.23 583.6 586.9)" text-anchor="middle" font-family="'Liberation Serif', serif" font-size="22" fill="#111" font-weight="normal" >2118</text>
<text x="583.6" y="969.97" transform="rotate(56.44 583.6 586.9)" text-anchor="middle" font-family="'Liberation Sans', sans-serif" font-size="17.8" fill="#000" font-weight="normal" letter-spacing="0.3">97</text>
<text x="583.6" y="969.97" transform="rotate(64.52 583.6 586.9)" text-anchor="middle" font-family="'Liberation Sans', sans-serif" font-size="17.8" fill="#000" font-weight="normal" letter-spacing="0.3">344</text>
<path d="M83.88 742.55 A523.4 523.4 0 0 1 60.24 593.29 L104.64 592.75 A479 479 0 0 0 126.27 729.34 Z" fill="#AB437B"/>
<path d="M146.56 723.86 A458 458 0 0 1 126.61 617.27 L148.96 615.79 A435.6 435.6 0 0 0 167.93 717.16 Z" fill="#FD6446"/>
<path d="M187.04 708.9 A414.9 414.9 0 0 1 179.57 681.25 L201.29 676.18 A392.6 392.6 0 0 0 208.36 702.34 Z" fill="#009CF5"/>
<path d="M179.57 681.25 A414.9 414.9 0 0 1 168.76 593.78 L191.05 593.41 A392.6 392.6 0 0 0 201.29 676.18 Z" fill="#FF9900"/>
<line x1="83.82" y1="740.65" x2="71.77" y2="744.36" stroke="#000" stroke-width="1.8"/>
<text x="67.47" y="745.68" transform="rotate(342.9 67.47 745.68)" font-family="'Liberation Sans', sans-serif" font-size="14" text-anchor="end" dominant-baseline="central" fill="#000">1</text>
<line x1="73.29" y1="700.97" x2="61" y2="703.72" stroke="#000" stroke-width="1.8"/>
<text x="56.6" y="704.7" transform="rotate(347.4 56.6 704.7)" font-family="'Liberation Sans', sans-serif" font-size="14" text-anchor="end" dominant-baseline="central" fill="#000">10</text>
<line x1="65.92" y1="660.58" x2="53.44" y2="662.35" stroke="#000" stroke-width="1.8"/>
<text x="48.99" y="662.99" transform="rotate(351.9 48.99 662.99)" font-family="'Liberation Sans', sans-serif" font-size="14" text-anchor="end" dominant-baseline="central" fill="#000">100</text>
<line x1="61.73" y1="619.73" x2="49.16" y2="620.52" stroke="#000" stroke-width="1.8"/>
<text x="44.67" y="620.81" transform="rotate(356.4 44.67 620.81)" font-family="'Liberation Sans', sans-serif" font-size="14" text-anchor="end" dominant-baseline="central" fill="#000">1000</text>
<text x="583.6" y="1095.75" transform="rotate(80.35 583.6 586.9)" text-anchor="middle" font-family="'Liberation Serif', serif" font-size="23.8" fill="#fff" font-weight="bold" stroke="#AB437B" stroke-width="0.4" letter-spacing="0.3">GO:0009451</text>
<text x="583.6" y="1041.66" transform="rotate(79.05 583.6 586.9)" text-anchor="middle" font-family="'Liberation Serif', serif" font-size="22" fill="#111" font-weight="normal" >1728</text>
<text x="583.6" y="969.97" transform="rotate(74.43 583.6 586.9)" text-anchor="middle" font-family="'Liberation Sans', sans-serif" font-size="17.8" fill="#000" font-weight="normal" letter-spacing="0.3">80</text>
<text x="583.6" y="969.97" transform="rotate(82.5 583.6 586.9)" text-anchor="middle" font-family="'Liberation Sans', sans-serif" font-size="17.8" fill="#000" font-weight="normal" letter-spacing="0.3">286</text>
<path d="M60.24 580.51 A523.4 523.4 0 0 1 83.88 431.25 L126.27 444.46 A479 479 0 0 0 104.64 581.05 Z" fill="#AB437B"/>
<path d="M125.63 582.1 A458 458 0 0 1 139.01 476.89 L160.75 482.27 A435.6 435.6 0 0 0 148.02 582.34 Z" fill="#FD6446"/>
<path d="M168.75 580.38 A414.9 414.9 0 0 1 173.05 526.97 L195.12 530.19 A392.6 392.6 0 0 0 191.05 580.73 Z" fill="#009CF5"/>
<path d="M173.05 526.97 A414.9 414.9 0 0 1 186.94 465.25 L208.26 471.79 A392.6 392.6 0 0 0 195.12 530.19 Z" fill="#FF9900"/>
<line x1="60.76" y1="578.69" x2="48.17" y2="578.49" stroke="#000" stroke-width="1.8"/>
<text x="43.67" y="578.42" transform="rotate(360.9 43.67 578.42)" font-family="'Liberation Sans', sans-serif" font-size="14" text-anchor="end" dominant-baseline="central" fill="#000">1</text>
<line x1="63.02" y1="537.69" x2="50.48" y2="536.5" stroke="#000" stroke-width="1.8"/>
<text x="46" y="536.08" transform="rotate(365.4 46 536.08)" font-family="'Liberation Sans', sans-serif" font-size="14" text-anchor="end" dominant-baseline="central" fill="#000">10</text>
<line x1="68.49" y1="497" x2="56.07" y2="494.83" stroke="#000" stroke-width="1.8"/>
<text x="51.64" y="494.06" transform="rotate(369.9 51.64 494.06)" font-family="'Liberation Sans', sans-serif" font-size="14" text-anchor="end" dominant-baseline="central" fill="#000">100</text>
<line x1="77.13" y1="456.86" x2="64.92" y2="453.73" stroke="#000" stroke-width="1.8"/>
<text x="60.57" y="452.61" transform="rotate(374.4 60.57 452.61)" font-family="'Liberation Sans', sans-serif" font-size="14" text-anchor="end" dominant-baseline="central" fill="#000">1000</text>
<text x="583.6" y="93.05" transform="rotate(278.35 583.6 586.9)" text-anchor="middle" font-family="'Liberation Serif', serif" font-size="23.8" fill="#fff" font-weight="bold" stroke="#AB437B" stroke-width="0.4" letter-spacing="0.3">GO:0071554</text>
<text x="583.6" y="146.66" transform="rotate(276.65 583.6 586.9)" text-anchor="middle" font-family="'Liberation Serif', serif" font-size="22" fill="#111" font-weight="normal" >1466</text>
<text x="583.6" y="212.97" transform="rotate(274.3 583.6 586.9)" text-anchor="middle" font-family="'Liberation Sans', sans-serif" font-size="17.8" fill="#000" font-weight="normal" letter-spacing="0.3">126</text>
<text x="583.6" y="212.97" transform="rotate(282.38 583.6 586.9)" text-anchor="middle" font-family="'Liberation Sans', sans-serif" font-size="17.8" fill="#000" font-weight="normal" letter-spacing="0.3">182</text>
<path d="M87.83 419.09 A523.4 523.4 0 0 1 156.43 284.45 L192.67 310.11 A479 479 0 0 0 129.89 433.33 Z" fill="#AB437B"/>
<path d="M149.52 440.82 A458 458 0 0 1 182.68 365.48 L202.29 376.31 A435.6 435.6 0 0 0 170.75 447.96 Z" fill="#FD6446"/>
<path d="M191.07 452.51 A414.9 414.9 0 0 1 230.61 368.87 L249.58 380.59 A392.6 392.6 0 0 0 212.17 459.73 Z" fill="#009CF5"/>
<path d="M230.61 368.87 A414.9 414.9 0 0 1 243.94 348.63 L262.2 361.43 A392.6 392.6 0 0 0 249.58 380.59 Z" fill="#FF9900"/>
<line x1="88.89" y1="417.52" x2="76.97" y2="413.44" stroke="#000" stroke-width="1.8"/>
<text x="72.71" y="411.98" transform="rotate(378.9 72.71 411.98)" font-family="'Liberation Sans', sans-serif" font-size="14" text-anchor="end" dominant-baseline="central" fill="#000">1</text>
<line x1="103.71" y1="379.23" x2="92.14" y2="374.23" stroke="#000" stroke-width="1.8"/>
<text x="88.01" y="372.44" transform="rotate(383.4 88.01 372.44)" font-family="'Liberation Sans', sans-serif" font-size="14" text-anchor="end" dominant-baseline="central" fill="#000">10</text>
<line x1="121.48" y1="342.22" x2="110.34" y2="336.32" stroke="#000" stroke-width="1.8"/>
<text x="106.37" y="334.22" transform="rotate(387.9 106.37 334.22)" font-family="'Liberation Sans', sans-serif" font-size="14" text-anchor="end" dominant-baseline="central" fill="#000">100</text>
<line x1="142.1" y1="306.72" x2="131.46" y2="299.96" stroke="#000" stroke-width="1.8"/>
<text x="127.66" y="297.55" transform="rotate(392.4 127.66 297.55)" font-family="'Liberation Sans', sans-serif" font-size="14" text-anchor="end" dominant-baseline="central" fill="#000">1000</text>
<text x="583.6" y="93.05" transform="rotate(296.35 583.6 586.9)" text-anchor="middle" font-family="'Liberation Serif', serif" font-size="23.8" fill="#fff" font-weight="bold" stroke="#AB437B" stroke-width="0.4" letter-spacing="0.3">GO:0010410</text>
<text x="583.6" y="146.66" transform="rotate(293.16 583.6 586.9)" text-anchor="middle" font-family="'Liberation Serif', serif" font-size="22" fill="#111" font-weight="normal" >285</text>
<text x="583.6" y="212.97" transform="rotate(295 583.6 586.9)" text-anchor="middle" font-family="'Liberation Sans', sans-serif" font-size="17.8" fill="#000" font-weight="normal" letter-spacing="0.3">58</text>
<text x="583.6" y="212.97" transform="rotate(303.08 583.6 586.9)" text-anchor="middle" font-family="'Liberation Sans', sans-serif" font-size="17.8" fill="#000" font-weight="normal" letter-spacing="0.3">24</text>
<path d="M163.95 274.1 A523.4 523.4 0 0 1 270.8 167.25 L297.34 202.85 A479 479 0 0 0 199.55 300.64 Z" fill="#AB437B"/>
<path d="M215.91 313.83 A458 458 0 0 1 270.72 252.43 L286.02 268.79 A435.6 435.6 0 0 0 233.89 327.18 Z" fill="#FD6446"/>
<path d="M251.81 337.79 A414.9 414.9 0 0 1 315.26 270.46 L329.68 287.47 A392.6 392.6 0 0 0 269.64 351.18 Z" fill="#009CF5"/>
<path d="M315.26 270.46 A414.9 414.9 0 0 1 334.2 255.33 L347.6 273.15 A392.6 392.6 0 0 0 329.68 287.47 Z" fill="#FF9900"/>
<line x1="165.44" y1="272.94" x2="155.37" y2="265.37" stroke="#000" stroke-width="1.8"/>
<text x="151.77" y="262.67" transform="rotate(396.9 151.77 262.67)" font-family="'Liberation Sans', sans-serif" font-size="14" text-anchor="end" dominant-baseline="central" fill="#000">1</text>
<line x1="191.37" y1="241.1" x2="181.92" y2="232.77" stroke="#000" stroke-width="1.8"/>
<text x="178.54" y="229.79" transform="rotate(401.4 178.54 229.79)" font-family="'Liberation Sans', sans-serif" font-size="14" text-anchor="end" dominant-baseline="central" fill="#000">10</text>
<line x1="219.71" y1="211.39" x2="210.94" y2="202.34" stroke="#000" stroke-width="1.8"/>
<text x="207.81" y="199.11" transform="rotate(405.9 207.81 199.11)" font-family="'Liberation Sans', sans-serif" font-size="14" text-anchor="end" dominant-baseline="central" fill="#000">100</text>
<line x1="250.29" y1="184" x2="242.26" y2="174.29" stroke="#000" stroke-width="1.8"/>
<text x="239.39" y="170.82" transform="rotate(410.4 239.39 170.82)" font-family="'Liberation Sans', sans-serif" font-size="14" text-anchor="end" dominant-baseline="central" fill="#000">1000</text>
<text x="583.6" y="93.05" transform="rotate(314.35 583.6 586.9)" text-anchor="middle" font-family="'Liberation Serif', serif" font-size="23.8" fill="#fff" font-weight="bold" stroke="#AB437B" stroke-width="0.4" letter-spacing="0.3">GO:0045491</text>
<text x="583.6" y="146.66" transform="rotate(311.16 583.6 586.9)" text-anchor="middle" font-family="'Liberation Serif', serif" font-size="22" fill="#111" font-weight="normal" >285</text>
<text x="583.6" y="212.97" transform="rotate(313 583.6 586.9)" text-anchor="middle" font-family="'Liberation Sans', sans-serif" font-size="17.8" fill="#000" font-weight="normal" letter-spacing="0.3">58</text>
<text x="583.6" y="212.97" transform="rotate(321.08 583.6 586.9)" text-anchor="middle" font-family="'Liberation Sans', sans-serif" font-size="17.8" fill="#000" font-weight="normal" letter-spacing="0.3">24</text>
<path d="M281.15 159.73 A523.4 523.4 0 0 1 415.79 91.13 L430.03 133.19 A479 479 0 0 0 306.81 195.97 Z" fill="#AB437B"/>
<path d="M318.29 213.57 A458 458 0 0 1 419.44 159.33 L427.47 180.24 A435.6 435.6 0 0 0 331.27 231.83 Z" fill="#FD6446"/>
<path d="M345.03 247.45 A414.9 414.9 0 0 1 389.53 220.19 L399.96 239.9 A392.6 392.6 0 0 0 357.85 265.69 Z" fill="#009CF5"/>
<path d="M389.53 220.19 A414.9 414.9 0 0 1 448.86 194.49 L456.11 215.58 A392.6 392.6 0 0 0 399.96 239.9 Z" fill="#FF9900"/>
<line x1="282.93" y1="159.09" x2="275.68" y2="148.78" stroke="#000" stroke-width="1.8"/>
<text x="273.1" y="145.1" transform="rotate(414.9 273.1 145.1)" font-family="'Liberation Sans', sans-serif" font-size="14" text-anchor="end" dominant-baseline="central" fill="#000">1</text>
<line x1="317.42" y1="136.82" x2="311.01" y2="125.97" stroke="#000" stroke-width="1.8"/>
<text x="308.72" y="122.1" transform="rotate(419.4 308.72 122.1)" font-family="'Liberation Sans', sans-serif" font-size="14" text-anchor="end" dominant-baseline="central" fill="#000">10</text>
<line x1="353.56" y1="117.32" x2="348.01" y2="106.01" stroke="#000" stroke-width="1.8"/>
<text x="346.03" y="101.97" transform="rotate(423.9 346.03 101.97)" font-family="'Liberation Sans', sans-serif" font-size="14" text-anchor="end" dominant-baseline="central" fill="#000">100</text>
<line x1="391.11" y1="100.72" x2="386.47" y2="89" stroke="#000" stroke-width="1.8"/>
<text x="384.81" y="84.82" transform="rotate(428.4 384.81 84.82)" font-family="'Liberation Sans', sans-serif" font-size="14" text-anchor="end" dominant-baseline="central" fill="#000">1000</text>
<text x="583.6" y="93.05" transform="rotate(332.35 583.6 586.9)" text-anchor="middle" font-family="'Liberation Serif', serif" font-size="23.8" fill="#fff" font-weight="bold" stroke="#AB437B" stroke-width="0.4" letter-spacing="0.3">GO:0009719</text>
<text x="583.6" y="146.66" transform="rotate(331.2 583.6 586.9)" text-anchor="middle" font-family="'Liberation Serif', serif" font-size="22" fill="#111" font-weight="normal" >2677</text>
<text x="583.6" y="212.97" transform="rotate(328.21 583.6 586.9)" text-anchor="middle" font-family="'Liberation Sans', sans-serif" font-size="17.8" fill="#000" font-weight="normal" letter-spacing="0.3">202</text>
<text x="583.6" y="212.97" transform="rotate(336.28 583.6 586.9)" text-anchor="middle" font-family="'Liberation Sans', sans-serif" font-size="17.8" fill="#000" font-weight="normal" letter-spacing="0.3">305</text>
<path d="M427.95 87.18 A523.4 523.4 0 0 1 577.21 63.54 L577.75 107.94 A479 479 0 0 0 441.16 129.57 Z" fill="#AB437B"/>
<path d="M446.64 149.86 A458 458 0 0 1 534.86 131.5 L537.25 153.77 A435.6 435.6 0 0 0 453.34 171.23 Z" fill="#FD6446"/>
<path d="M461.6 190.34 A414.9 414.9 0 0 1 534.02 174.97 L536.69 197.11 A392.6 392.6 0 0 0 468.16 211.66 Z" fill="#009CF5"/>
<path d="M534.02 174.97 A414.9 414.9 0 0 1 576.72 172.06 L577.09 194.35 A392.6 392.6 0 0 0 536.69 197.11 Z" fill="#FF9900"/>
<line x1="429.85" y1="87.12" x2="426.14" y2="75.07" stroke="#000" stroke-width="1.8"/>
<text x="424.82" y="70.77" transform="rotate(432.9 424.82 70.77)" font-family="'Liberation Sans', sans-serif" font-size="14" text-anchor="end" dominant-baseline="central" fill="#000">1</text>
<line x1="469.53" y1="76.59" x2="466.78" y2="64.3" stroke="#000" stroke-width="1.8"/>
<text x="465.8" y="59.9" transform="rotate(437.4 465.8 59.9)" font-family="'Liberation Sans', sans-serif" font-size="14" text-anchor="end" dominant-baseline="central" fill="#000">10</text>
<line x1="509.92" y1="69.22" x2="508.15" y2="56.74" stroke="#000" stroke-width="1.8"/>
<text x="507.51" y="52.29" transform="rotate(441.9 507.51 52.29)" font-family="'Liberation Sans', sans-serif" font-size="14" text-anchor="end" dominant-baseline="central" fill="#000">100</text>
<line x1="550.77" y1="65.03" x2="549.98" y2="52.46" stroke="#000" stroke-width="1.8"/>
<text x="549.69" y="47.97" transform="rotate(446.4 549.69 47.97)" font-family="'Liberation Sans', sans-serif" font-size="14" text-anchor="end" dominant-baseline="central" fill="#000">1000</text>
<text x="583.6" y="93.05" transform="rotate(350.35 583.6 586.9)" text-anchor="middle" font-family="'Liberation Serif', serif" font-size="23.8" fill="#fff" font-weight="bold" stroke="#AB437B" stroke-width="0.4" letter-spacing="0.3">GO:0044036</text>
<text x="583.6" y="146.66" transform="rotate(347.65 583.6 586.9)" text-anchor="middle" font-family="'Liberation Serif', serif" font-size="22" fill="#111" font-weight="normal" >488</text>
<text x="583.6" y="212.97" transform="rotate(347.72 583.6 586.9)" text-anchor="middle" font-family="'Liberation Sans', sans-serif" font-size="17.8" fill="#000" font-weight="normal" letter-spacing="0.3">69</text>
<text x="583.6" y="212.97" transform="rotate(355.79 583.6 586.9)" text-anchor="middle" font-family="'Liberation Sans', sans-serif" font-size="17.8" fill="#000" font-weight="normal" letter-spacing="0.3">53</text>
<rect x="462" y="527" width="56" height="21" fill="#808080"/>
<text x="488" y="544.5" font-family="'Liberation Sans', sans-serif" font-size="19" text-anchor="middle" fill="#000">100</text>
<rect x="462" y="563" width="56" height="23" fill="#009CF5"/>
<rect x="462" y="601" width="56" height="22" fill="#FF9900"/>
<path d="M462 639 L518 635.5 L518 657 L462 653.5 Z" fill="#808080"/>
<text x="524" y="543" font-family="'Liberation Serif', serif" font-size="19.5" fill="#111">Number of Genes</text>
<text x="524" y="581" font-family="'Liberation Serif', serif" font-size="19.5" fill="#111">Up-regulated</text>
<text x="524" y="619" font-family="'Liberation Serif', serif" font-size="19.5" fill="#111">Down-regulated</text>
<text x="524" y="652" font-family="'Liberation Serif', serif" font-size="19.5" fill="#111">Rich Factor (0&#8211;0.3)</text>
<rect x="1213" y="272" width="19" height="19" fill="#AB437B"/>
<text transform="translate(1242 290.6) scale(0.975 1)" font-family="'Liberation Serif', serif" font-size="26.2" fill="#333">Biological Process</text>
<rect x="1213" y="310" width="19" height="19" fill="#FF3388"/>
<text transform="translate(1242 328.6) scale(0.975 1)" font-family="'Liberation Serif', serif" font-size="26.2" fill="#333">Cellular Component</text>
<rect x="1213" y="347" width="19" height="19" fill="#FFCC00"/>
<text transform="translate(1242 365.6) scale(0.975 1)" font-family="'Liberation Serif', serif" font-size="26.2" fill="#333">Molecular Function</text>
<text transform="translate(1234 400.5) scale(0.975 1)" font-family="'Liberation Serif', serif" font-size="27" fill="#333">-log<tspan font-size="18.5" dy="3">10</tspan><tspan dy="-3">(Qvalue)</tspan></text>
<circle cx="1222.5" cy="439.8" r="9.3" fill="#FDDDD3"/>
<text transform="translate(1242.5 448.6) scale(0.975 1)" font-family="'Liberation Serif', serif" font-size="26.2" fill="#333">(0,1.3]</text>
<circle cx="1222.5" cy="477.2" r="9.3" fill="#FCBBA1"/>
<text transform="translate(1242.5 486) scale(0.975 1)" font-family="'Liberation Serif', serif" font-size="26.2" fill="#333">(1.3,2]</text>
<circle cx="1222.5" cy="514.6" r="9.3" fill="#FC9070"/>
<text transform="translate(1242.5 523.4) scale(0.975 1)" font-family="'Liberation Serif', serif" font-size="26.2" fill="#333">(2,5]</text>
<circle cx="1222.5" cy="552" r="9.3" fill="#FD6446"/>
<text transform="translate(1242.5 560.8) scale(0.975 1)" font-family="'Liberation Serif', serif" font-size="26.2" fill="#333">(5,10]</text>
<circle cx="1222.5" cy="589.4" r="9.3" fill="#FA3525"/>
<text transform="translate(1242.5 598.2) scale(0.975 1)" font-family="'Liberation Serif', serif" font-size="26.2" fill="#333">(10,15]</text>
<circle cx="1222.5" cy="626.8" r="9.3" fill="#D9141E"/>
<text transform="translate(1242.5 635.6) scale(0.975 1)" font-family="'Liberation Serif', serif" font-size="26.2" fill="#333">(15,20]</text>
<circle cx="1222.5" cy="664.2" r="9.3" fill="#B5000C"/>
<text transform="translate(1242.5 673) scale(0.975 1)" font-family="'Liberation Serif', serif" font-size="26.2" fill="#333">&gt;20</text>
<text x="735.5" y="1201.5" font-family="'Liberation Serif', serif" font-size="36" font-weight="bold" text-anchor="middle" fill="#000">200 mM NaCl-168 h vs. 200 mM NaCl + 10 mM KCl-168h</text></svg>
</body></html>
